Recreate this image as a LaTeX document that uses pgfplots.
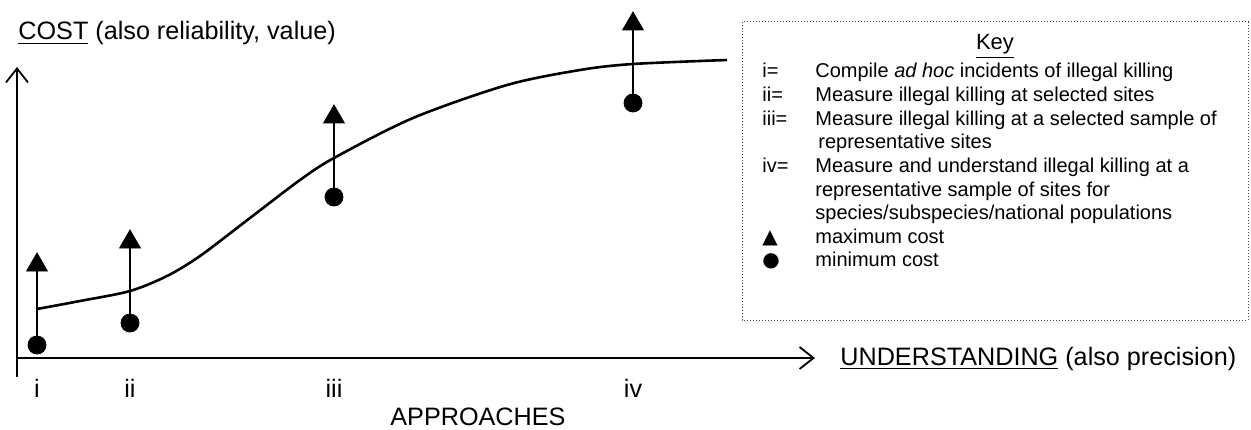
\documentclass[border=0pt]{standalone}
\usepackage{pgfplots}
\pgfplotsset{compat=1.18}
\usepackage{fontspec}
\setmainfont{Liberation Sans}
\newfontfamily\symfont{DejaVu Sans}
\usetikzlibrary{arrows.meta}
\newcommand{\mainsize}{\fontsize{12.6}{14.5}\selectfont}
\begin{document}
\begin{tikzpicture}
\begin{axis}[
  scale only axis, width=399pt, height=145.5pt,
  xmin=17, xmax=815, ymin=0, ymax=291,
  axis lines=left,
  axis line style={line width=0.9pt, -{Straight Barb[length=7pt,width=11pt,line width=0.9pt]}},
  xtick={37,130,334,633}, xticklabels={i,ii,iii,iv},
  ytick=\empty,
  major tick length=0pt,
  xticklabel style={anchor=base, yshift=-19.5pt, font=\mainsize},
  clip=false,
  unbounded coords=jump,
]
% cost curve
\addplot[smooth, line width=1.3pt, no marks] coordinates {
(37,49) (80,57) (130,67) (167,82) (200,102) (250,140) (300,178) (334,200)
(413,240) (507,273) (580,288) (633,294) (727,298)};
% stems from minimum to maximum cost
\addplot[line width=0.9pt, no marks] coordinates {
(37,13) (37,93) (37,nan) (130,35) (130,116) (130,nan)
(334,161) (334,241) (334,nan) (633,255) (633,334)};
% minimum cost
\addplot[only marks, mark=*, mark size=4.5pt] coordinates {
(37,13) (130,35) (334,161) (633,255)};
% maximum cost
\addplot[only marks, mark=triangle*, mark size=6pt] coordinates {
(37,93) (130,116) (334,241) (633,334)};
% y axis extends below the x axis
\addplot[line width=0.9pt, no marks] coordinates {(17,0) (17,-19)};

\node[anchor=base west, inner sep=0, font=\mainsize] at (axis cs:18,318)
  {\underline{COST} (also reliability, value)};
\node[anchor=base west, inner sep=0, font=\mainsize] at (axis cs:840,-7)
  {\underline{UNDERSTANDING} (also precision)};
\node[anchor=base west, inner sep=0, font=\mainsize] at (axis cs:390,-67)
  {APPROACHES};

\draw[densely dotted, line width=0.5pt, black!75] (axis cs:742,336) rectangle (axis cs:1248,38);
\node[anchor=base, inner sep=0, font=\fontsize{11}{13}\selectfont] at (axis cs:995,308) {\underline{Key}};
\node[anchor=base west, inner sep=0, font=\fontsize{10}{11.8}\selectfont] at (axis cs:762,280) {%
\begin{tabular}[t]{@{}p{26.5pt}@{}l@{}}
i= & Compile \textit{ad hoc} incidents of illegal killing\\
ii= & Measure illegal killing at selected sites\\
iii= & Measure illegal killing at a selected sample of\\
 & \hspace{1.5pt}representative sites\\
iv= & Measure and understand illegal killing at a\\
 & representative sample of sites for\\
 & species/subspecies/national populations\\
{\symfont ▲} & maximum cost\\
{\symfont ●} & minimum cost
\end{tabular}};

\coordinate (BL) at (axis cs:0,-71);
\coordinate (TR) at (axis cs:1251,358);
\end{axis}
\pgfresetboundingbox
\useasboundingbox (BL) rectangle (TR);
\end{tikzpicture}
\end{document}
